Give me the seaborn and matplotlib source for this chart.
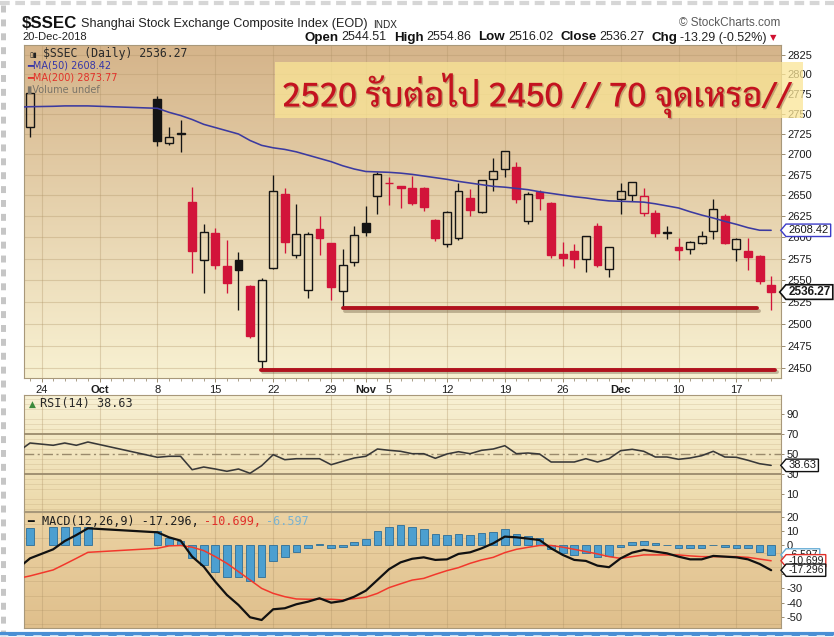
import numpy as np
import pandas as pd
import matplotlib
matplotlib.use("Agg")
import matplotlib.pyplot as plt
import matplotlib.patheffects as pe
import seaborn as sns
from matplotlib import font_manager
from matplotlib.colors import to_rgb
from matplotlib.lines import Line2D
from matplotlib.patches import Rectangle
from matplotlib.path import Path
from matplotlib.ticker import FixedLocator, FixedFormatter, NullLocator, NullFormatter

sns.set_theme(style="ticks")
plt.rcParams["font.family"] = ["Liberation Sans", "DejaVu Sans"]
plt.rcParams["lines.scale_dashes"] = False

W, H = 834, 637
nan = np.nan

# ---------------- data (one value per weekday, Sep 20 .. Dec 20 2018) ----------------
dates = pd.bdate_range("2018-09-20", "2018-12-20")
gap10 = [nan] * 10  # Sep 24 .. Oct 5 : no candles shown

opens = [nan, 2734] + gap10 + [
    2768.2, 2714.5, 2724.5, 2642, 2574, 2605, 2566.5, 2573.5, 2543, 2458.5,
    2564.5, 2651.5, 2579.5, 2539, 2609.5, 2593, 2537, 2571.5, 2617, 2649,
    2665.5, 2661, 2659.5, 2659.5, 2621, 2592, 2599, 2647.5, 2630.5, 2669.5,
    2682, 2684, 2619, 2654.5, 2641, 2580.5, 2584.5, 2574.5, 2613, 2563.5,
    2646, 2650.5, 2629, 2629, 2605.5, 2589, 2586, 2593, 2607, 2626,
    2586, 2583.5, 2578.5, 2544.51]
highs = [nan, 2778] + gap10 + [
    2771.9, 2734, 2743, 2660, 2616, 2611.5, 2597, 2582.5, 2544, 2552,
    2675, 2659.5, 2639.5, 2606, 2625.5, 2594, 2586.5, 2613, 2637, 2678,
    2672, 2662, 2673.5, 2660.5, 2622, 2631, 2665.5, 2657.5, 2668.5, 2695,
    2704.5, 2691, 2654, 2657, 2642, 2595, 2592, 2601.7, 2616.5, 2588.2,
    2665.5, 2666.5, 2659.5, 2633, 2613.5, 2599, 2596, 2607.5, 2645.5, 2628,
    2599, 2599, 2579.5, 2554.86]
lows = [nan, 2721] + gap10 + [
    2710.5, 2712, 2703, 2558, 2535, 2563.5, 2535, 2516, 2483.5, 2449.2,
    2563.5, 2581.5, 2575.5, 2530, 2579.5, 2527.5, 2519, 2566.5, 2602, 2628,
    2638.5, 2634.5, 2638, 2631, 2596, 2588.5, 2597, 2626, 2629.5, 2655.5,
    2672.5, 2641, 2616, 2632, 2575.5, 2566, 2564.5, 2560, 2565.5, 2554,
    2628, 2643.5, 2625, 2601, 2598, 2573.5, 2580.5, 2592, 2598, 2592,
    2572.5, 2562, 2546, 2516.02]
closes = [nan, 2776] + gap10 + [
    2716.5, 2721.0, 2725.8, 2583.5, 2606.9, 2568.1, 2546.3, 2561.6, 2486.4, 2550.5,
    2654.9, 2594.8, 2603.8, 2604.5, 2598.9, 2542.1, 2568.1, 2602.8, 2606.2, 2676.5,
    2665.4, 2659.4, 2641.3, 2635.6, 2598.9, 2630.5, 2654.9, 2632.2, 2668.2, 2679.1,
    2703.5, 2645.4, 2651.5, 2646.8, 2579.5, 2575.8, 2574.7, 2601.7, 2567.4, 2588.2,
    2654.8, 2666.0, 2649.8, 2605.2, 2605.9, 2584.6, 2594.1, 2602.2, 2634.1, 2593.7,
    2598.0, 2576.7, 2549.6, 2536.27]

ma50 = [2758.5, 2759, nan, 2759.5, 2760, 2760, 2760, nan, nan, nan, nan, nan,
        2757, 2752, 2748, 2743, 2737, 2733, 2729, 2725, 2717, 2711,
        2708, 2706, 2703, 2699, 2695, 2691, 2686, 2682, 2679, 2678.5,
        2678, 2677, 2675.5, 2673.5, 2671.5, 2669.5, 2667, 2665, 2663, 2661,
        2660, 2658.5, 2657, 2654.5, 2652.5, 2650.5, 2648.5, 2647, 2645, 2643.5,
        2643, 2642.5, 2642, 2640, 2637.5, 2635, 2630.5, 2626.5, 2623, 2619,
        2615.5, 2611.5, 2608.5, 2608.42]

rsi14 = [52.5, 61, nan, 58.7, 61, 58.7, 62, nan, nan, nan, nan, nan,
         46.7, 47.7, 47.7, 34.3, 37, 35, 32.7, 35, 30.7, 38.3,
         49.3, 44.3, 45.3, 45.3, 45.3, 39.3, 42.7, 46, 47.7, 55,
         53.7, 52.7, 50.3, 50.3, 45.7, 50, 52.3, 50.3, 53.7, 55,
         58.3, 50.3, 51, 50, 42, 42, 42, 45.3, 42, 45.3,
         53.3, 54.7, 52.7, 47, 47, 44.7, 46, 48.3, 52.7, 47,
         46.7, 43.7, 40.3, 38.63]

macd = [-15.7, -9.0, nan, -2.7, 3.1, 7.3, 12.0, nan, nan, nan, nan, nan,
        9.2, 5.7, 3.4, -7.8, -14.8, -25.3, -34.6, -41.6, -50.2, -52.1,
        -44.6, -43.9, -41.1, -39.3, -36.9, -40.0, -38.8, -35.8, -31.6, -24.1,
        -16.6, -11.8, -9.3, -8.3, -10.1, -9.7, -5.9, -4.8, -2.0, 1.5,
        6.2, 5.7, 4.8, 3.8, -2.0, -6.6, -10.1, -10.8, -14.1, -15.2,
        -9.0, -5.0, -3.1, -4.3, -5.5, -7.8, -9.7, -9.7, -7.3, -7.8,
        -8.3, -9.7, -12.9, -17.296]
signal = [-23.0, -21.3, nan, -17.1, -13.1, -9.0, -4.8, nan, nan, nan, nan, nan,
          -2.0, -0.3, 0.0, -1.2, -3.6, -7.8, -12.5, -18.3, -24.1, -30.0,
          -33.5, -35.8, -37.4, -37.6, -37.6, -37.6, -38.1, -37.2, -36.2, -33.5,
          -29.5, -26.8, -24.2, -23.0, -20.2, -17.6, -15.5, -12.5, -10.1, -8.3,
          -5.0, -2.7, -1.3, 0.0, 0.0, -1.2, -2.7, -4.3, -5.9, -7.8,
          -9.0, -7.8, -6.6, -6.6, -6.6, -6.6, -7.3, -7.8, -7.8, -7.8,
          -7.8, -8.3, -9.5, -10.699]
hist = [7.3, 12.0, nan, 12.7, 12.7, 13.1, 13.1, nan, nan, nan, nan, nan,
        10.4, 5.5, 3.4, -9.0, -13.6, -18.3, -21.8, -22.3, -24.8, -21.8,
        -10.8, -7.8, -4.8, -2.0, 0.8, -2.0, -1.4, 2.2, 4.5, 10.4,
        12.7, 14.6, 13.1, 11.3, 8.0, 7.3, 8.0, 7.3, 9.0, 9.7,
        11.3, 8.0, 6.6, 5.0, -2.7, -5.0, -6.6, -5.5, -7.8, -7.3,
        -1.3, 2.7, 3.4, 2.0, 0.3, -1.5, -2.0, -2.0, 0.5, -1.0,
        -1.5, -2.0, -4.8, -6.597]

# hand-drawn support lines: (level, first day, last day)
support_hi = (2518.0, 28.03, 63.8)
support_lo = (2448.6, 20.95, 65.3)

price_ticks = list(range(2450, 2826, 25))
rsi_ticks = [10, 30, 50, 70, 90]
macd_ticks = [20, 10, 0, -10, -20, -30, -40, -50]
macd_hidden = {-10, -20}  # covered by the value tags in the original

note_text = "2520 รับต่อไป 2450 // 70 จุดเหรอ//"

df = pd.DataFrame({"pos": np.arange(len(dates)), "date": dates,
                   "open": opens, "high": highs, "low": lows, "close": closes,
                   "ma50": ma50, "rsi": rsi14, "macd": macd, "signal": signal,
                   "hist": hist})

RED = "#d2143a"
BLACK = "#141414"


def pick_font(cands, default="DejaVu Sans"):
    for c in cands:
        try:
            font_manager.findfont(font_manager.FontProperties(family=c),
                                  fallback_to_default=False)
            return c
        except ValueError:
            pass
    return default


thai_font = pick_font(["Sarabun", "Noto Sans Thai Looped", "IBM Plex Sans Thai Looped",
                       "Noto Sans Thai", "Anuphan", "Prompt", "Kanit", "Mali"])
mono = "DejaVu Sans Mono"

fig = plt.figure(figsize=(W / 100, H / 100), dpi=100)
fig.patch.set_facecolor("white")
renderer = fig.canvas.get_renderer()


def rect(top, bottom, left=24, right=781):
    return [left / W, 1 - bottom / H, (right - left) / W, (bottom - top) / H]


def gradient_bg(r, c_top, c_bot):
    bg = fig.add_axes(r, zorder=0)
    bg.set_axis_off()
    t = np.linspace(0, 1, 256)[:, None, None]
    img = np.array(to_rgb(c_top)) * (1 - t) + np.array(to_rgb(c_bot)) * t
    bg.imshow(img, aspect="auto", extent=[0, 1, 0, 1], interpolation="bilinear")
    return bg


def panel(r, c_top, c_bot):
    gradient_bg(r, c_top, c_bot)
    a = fig.add_axes(r, zorder=1)
    a.set_facecolor("none")
    for s in a.spines.values():
        s.set_color("#a8987a")
        s.set_linewidth(0.8)
    return a


def tag_shape(x0, y0, width, height, mutation_size):
    pad = 0.2 * mutation_size
    x0 -= pad
    y0 -= pad * 0.55
    width += 2 * pad
    height += 1.1 * pad
    tip = 0.42 * height
    verts = [(x0 - tip, y0 + height / 2), (x0, y0 + height), (x0 + width, y0 + height),
             (x0 + width, y0), (x0, y0), (x0 - tip, y0 + height / 2)]
    return Path(verts, [Path.MOVETO] + [Path.LINETO] * 4 + [Path.CLOSEPOLY])


def tag(a, value, text, edge, weight="normal", size=8, lw=1.0, z=5):
    a.text(1.0095, value, text, transform=a.get_yaxis_transform(), ha="left",
           va="center", fontsize=size, fontweight=weight, color="#1a1a1a", zorder=z,
           bbox=dict(boxstyle=tag_shape, fc="white", ec=edge, lw=lw))


def run(x, y, parts, ha="left", va="baseline"):
    """place text pieces one after another, x/y in pixels from top-left"""
    items = []
    for s, kw, gap in parts:
        t = fig.text(0, 0, s, va=va, **kw)
        items.append((t, t.get_window_extent(renderer).width, gap))
    total = sum(w + g for _, w, g in items) - items[-1][2]
    cur = x - total if ha == "right" else x
    for t, w, g in items:
        t.set_position((cur / W, 1 - y / H))
        cur += w + g
    return cur


# x tick positions: Mondays, month starts get the month name
ticks, tlabels, tbold = [], [], []
for i, d in enumerate(dates):
    if d.is_month_start or (d.weekday() == 0 and d.day <= 3):
        ticks.append(i); tlabels.append(d.strftime("%b")); tbold.append(True)
    elif d.weekday() == 0:
        ticks.append(i); tlabels.append(str(d.day)); tbold.append(False)

XLIM = (0.48, 65.85)
grid_kw = dict(color="#b09468", alpha=0.35, lw=0.8)

# ---------------- price panel ----------------
ax = panel(rect(45, 378), "#d5b48a", "#f8f1d2")
ax.set_yscale("log")

c = df.dropna(subset=["open"])
prev_close = df["close"].shift(1).loc[c.index]
up = ~(c["close"] < prev_close)
edge = np.where(up, BLACK, RED)
hollow = c["close"] >= c["open"]
face = np.where(hollow, "none", edge)
top = np.maximum(c["open"], c["close"])
bot = np.minimum(c["open"], c["close"])
ax.vlines(c["pos"], top, c["high"], colors=edge, lw=0.95, zorder=3)
ax.vlines(c["pos"], c["low"], bot, colors=edge, lw=0.95, zorder=3)
ax.bar(c["pos"], top - bot, bottom=bot, width=0.68, color=face, edgecolor=edge,
       linewidth=1.0, zorder=4)

sns.lineplot(data=df.dropna(subset=["ma50"]), x="pos", y="ma50", ax=ax,
             color="#3b3aa0", lw=1.15, estimator=None, sort=False, zorder=5)

shadow = [pe.SimpleLineShadow(offset=(1.5, -2.0), shadow_color="#5a4a30", alpha=0.35),
          pe.Normal()]
for level, x0, x1 in (support_hi, support_lo):
    ax.plot([x0, x1], [level, level], color="#b0121e", lw=2.8,
            solid_capstyle="round", zorder=6, path_effects=shadow)

ax.set_xlim(*XLIM)
ax.set_ylim(2439.2, 2837.4)
ax.set_xlabel("")
ax.set_ylabel("")
ax.yaxis.set_major_locator(FixedLocator(price_ticks))
ax.yaxis.set_major_formatter(FixedFormatter([str(v) for v in price_ticks]))
ax.yaxis.set_minor_locator(NullLocator())
ax.yaxis.set_minor_formatter(NullFormatter())
ax.yaxis.tick_right()
ax.tick_params(axis="y", which="major", right=True, left=False, labelright=True,
               labelleft=False, length=3, width=0.6, color="#8a7a5a", labelsize=8,
               labelcolor="#1e1e1e", pad=1.5, direction="out")
ax.set_xticks(ticks)
ax.set_xticklabels(tlabels)
ax.xaxis.set_minor_locator(FixedLocator(np.arange(len(dates))))
ax.tick_params(axis="x", which="major", length=3, width=0.6, color="#8a7a5a",
               labelsize=8, labelcolor="#1e1e1e", pad=2)
ax.tick_params(axis="x", which="minor", length=2, width=0.5, color="#8a7a5a")
for lbl, b in zip(ax.get_xticklabels(), tbold):
    lbl.set_fontweight("bold" if b else "normal")
ax.grid(True, which="major", **grid_kw)

tag(ax, df["ma50"].iloc[-1], "2608.42", "#3c3cc8", z=7)
tag(ax, df["close"].iloc[-1], "2536.27", "#111111", weight="bold", size=8.5, lw=1.2, z=8)

# legend block
fig.text(29 / W, 1 - 56.5 / H, "▯▮", fontsize=5, color="#222", va="baseline",
         family="DejaVu Sans", zorder=6)
fig.text(43 / W, 1 - 57 / H, "$SSEC (Daily) 2536.27", fontsize=8.3, family=mono,
         color="#2a2a2a", va="baseline", zorder=6)
fig.text(27 / W, 1 - 69 / H, "━MA(50) 2608.42", fontsize=7, family="DejaVu Sans",
         color="#3535a8", va="baseline", zorder=6)
fig.text(27 / W, 1 - 81 / H, "━MA(200) 2873.77", fontsize=7, family="DejaVu Sans",
         color="#e2322a", va="baseline", zorder=6)
fig.text(27 / W, 1 - 92.5 / H, "▮Volume undef", fontsize=7, family="DejaVu Sans",
         color="#7a7468", va="baseline", zorder=6)

# note box
fig.add_artist(Rectangle((275 / W, 1 - 118 / H), (803 - 275) / W, (118 - 62) / H,
                         transform=fig.transFigure, fc="#fae596", ec="none",
                         alpha=0.75, zorder=5))
note = fig.text(536 / W, 1 - 106.5 / H, note_text, ha="center", va="baseline",
                fontsize=28, fontweight="medium", color="#c4121f",
                family=[thai_font, "DejaVu Sans"], zorder=6,
                path_effects=[pe.withSimplePatchShadow(offset=(1, -1), alpha=0.25)])
nw = note.get_window_extent(renderer).width
note.set_fontsize(28 * 510 / nw)

# ---------------- RSI panel ----------------
ar = panel(rect(395, 511), "#f8f1d4", "#ecd9aa")
sns.lineplot(data=df.dropna(subset=["rsi"]), x="pos", y="rsi", ax=ar,
             color="#383838", lw=1.15, estimator=None, sort=False, zorder=5)
for lv in (70, 30):
    ar.axhline(lv, color="#9a8a6c", lw=1.3, zorder=3)
ar.axhline(50, color="#9a8a6c", lw=1.0, dashes=(7, 2.5, 1.5, 2.5), zorder=3)
ar.set_xlim(*XLIM)
ar.set_ylim(-7, 109)
ar.set_xlabel("")
ar.set_ylabel("")
ar.set_xticks(ticks)
ar.set_xticklabels([])
ar.set_yticks(rsi_ticks)
ar.set_yticklabels([str(v) for v in rsi_ticks])
ar.set_yticks(np.arange(-5, 110, 5), minor=True)
ar.yaxis.tick_right()
ar.tick_params(axis="y", which="major", length=2, width=0.6, color="#8a7a5a",
               labelsize=8, labelcolor="#1e1e1e", pad=2)
ar.tick_params(axis="y", which="minor", length=0)
ar.tick_params(axis="x", length=0)
ar.grid(True, axis="x", which="major", **grid_kw)
ar.grid(True, axis="y", which="minor", color="#b09468", alpha=0.22, lw=0.7)
tag(ar, df["rsi"].iloc[-1], "38.63", "#111111")
fig.text(29 / W, 1 - 407 / H, "▲", fontsize=6.5, color="#3c8a3c", va="baseline",
         family="DejaVu Sans")
fig.text(40 / W, 1 - 407 / H, "RSI(14) 38.63", fontsize=8.5, family=mono,
         color="#2a2a2a", va="baseline")

# ---------------- MACD panel ----------------
am = panel(rect(512, 628), "#ecd3a4", "#dfbf8c")
hb = df.dropna(subset=["hist"])
sns.barplot(x=hb["pos"].to_numpy(), y=hb["hist"].to_numpy(), ax=am, native_scale=True,
            width=0.66, color="#4c9fd0", edgecolor="#2d6e98", linewidth=0.6,
            saturation=1, errorbar=None, zorder=3)
md = df.dropna(subset=["macd"])
sns.lineplot(data=md, x="pos", y="signal", ax=am, color="#f2382c", lw=1.1,
             estimator=None, sort=False, zorder=5)
sns.lineplot(data=md, x="pos", y="macd", ax=am, color="#111111", lw=1.6,
             estimator=None, sort=False, zorder=6)
am.set_xlim(*XLIM)
am.set_ylim(-57.7, 23.4)
am.set_xlabel("")
am.set_ylabel("")
am.set_xticks(ticks)
am.set_xticklabels([])
am.set_yticks(macd_ticks)
am.set_yticklabels(["" if v in macd_hidden else str(v) for v in macd_ticks])
am.set_yticks(np.arange(-55, 25, 5), minor=True)
am.yaxis.tick_right()
am.tick_params(axis="y", which="major", length=2, width=0.6, color="#8a7a5a",
               labelsize=8, labelcolor="#1e1e1e", pad=2)
am.tick_params(axis="y", which="minor", length=0)
am.tick_params(axis="x", length=0)
am.grid(True, axis="x", which="major", **grid_kw)
am.grid(True, axis="y", which="minor", color="#a08458", alpha=0.22, lw=0.7)
tag(am, df["hist"].iloc[-1], "-6.597", "#6aaed6", size=7.5, z=5)
tag(am, df["signal"].iloc[-1], "-10.699", "#e0302a", size=7.5, z=6)
tag(am, df["macd"].iloc[-1], "-17.296", "#111111", size=7.5, z=7)
fig.text(27 / W, 1 - 525 / H, "━", fontsize=8, color="#111", va="baseline",
         family="DejaVu Sans")
run(42, 525, [("MACD(12,26,9) -17.296,", dict(fontsize=8.5, family=mono, color="#1e1e1e"), 5),
              ("-10.699,", dict(fontsize=8.5, family=mono, color="#e0302a"), 5),
              ("-6.597", dict(fontsize=8.5, family=mono, color="#7ab2d0"), 0)])

# ---------------- header ----------------
run(22, 27.5, [("$SSEC", dict(fontsize=12.2, fontweight="bold", color="#111"), 4),
               ("Shanghai Stock Exchange Composite Index (EOD)", dict(fontsize=9.1, color="#222"), 5),
               ("INDX", dict(fontsize=7.2, color="#222"), 0)])
fig.text(780 / W, 1 - 25.5 / H, "© StockCharts.com", ha="right", va="baseline",
         fontsize=8.5, color="#5a5a5a")
fig.text(22 / W, 1 - 40.5 / H, "20-Dec-2018", fontsize=8, color="#222", va="baseline")
b = dict(fontsize=9.6, fontweight="bold", color="#111")
v = dict(fontsize=9.0, color="#222")
run(767, 40.5, [("Open", b, 3), ("2544.51", v, 7), ("High", b, 3), ("2554.86", v, 7),
                ("Low", b, 3), ("2516.02", v, 7), ("Close", b, 3), ("2536.27", v, 7),
                ("Chg", b, 3), ("-13.29 (-0.52%)", v, 0)], ha="right")
fig.text(773 / W, 1 - 40 / H, "▼", ha="center", va="baseline", fontsize=6,
         color="#d01030", family="DejaVu Sans")

# ---------------- screenshot frame ----------------
fig.add_artist(Line2D([2.5 / W, 2.5 / W], [0, 1], transform=fig.transFigure,
                      color="#c6c6c6", lw=3.6, dashes=(5, 5)))
fig.add_artist(Line2D([0, 1], [1 - 3 / H, 1 - 3 / H], transform=fig.transFigure,
                      color="#d6d6d6", lw=3.0, dashes=(7, 4)))
fig.add_artist(Line2D([0, 1], [1 - 634 / H, 1 - 634 / H], transform=fig.transFigure,
                      color="#4a8fd4", lw=3.0))
fig.add_artist(Line2D([0, 1], [1 - 636 / H, 1 - 636 / H], transform=fig.transFigure,
                      color="#e8eef6", lw=1.2, dashes=(6, 6)))

fig.savefig("out.png", dpi=100, facecolor="white")
